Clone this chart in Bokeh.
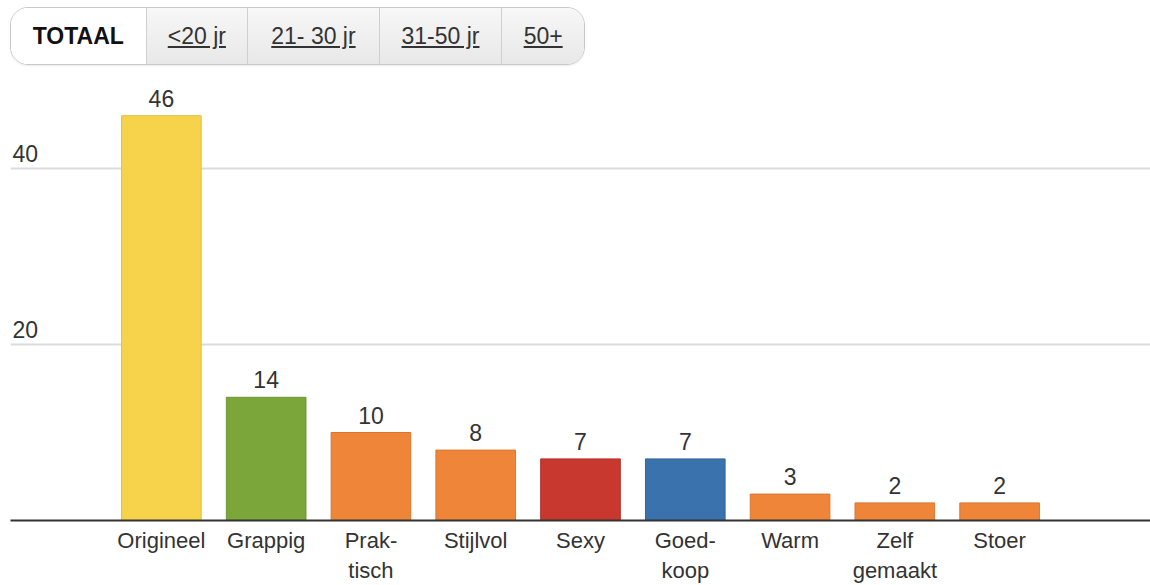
from bokeh.plotting import figure
from bokeh.models import FactorRange, ColumnDataSource, FixedTicker, Label, Div
from bokeh.layouts import column
from bokeh.embed import file_html
from bokeh.resources import INLINE

categories = ["Origineel", "Grappig", "Prak-\ntisch", "Stijlvol", "Sexy",
              "Goed-\nkoop", "Warm", "Zelf\ngemaakt", "Stoer"]
values = [46, 14, 10, 8, 7, 7, 3, 2, 2]
colors = ["#F6D34A", "#7BA73A", "#EE8538", "#EE8538", "#C8382F",
          "#3A72AD", "#EE8538", "#EE8538", "#EE8538"]
outlines = ["#E3C040", "#6E9632", "#DA7630", "#DA7630", "#B3312A",
            "#336599", "#DA7630", "#DA7630", "#DA7630"]
y_ticks = [20, 40]
tabs = ["TOTAAL", "&lt;20 jr", "21- 30 jr", "31-50 jr", "50+"]
tab_widths = [135, 102, 132, 123, 83]

FONT = "Liberation Sans"
FS = "23px"

# --- tab bar (HTML) ---
cells = []
for i, (t, w) in enumerate(zip(tabs, tab_widths)):
    if i == 0:
        style = ("background:#ffffff;font-weight:bold;color:#111;text-decoration:none;")
    else:
        style = ("background:linear-gradient(#f7f7f7,#e8e8e8);color:#333;"
                 "text-decoration:underline;border-left:1px solid #cfcfcf;")
    cells.append(
        f'<div style="display:flex;align-items:center;justify-content:center;'
        f'width:{w}px;height:100%;box-sizing:border-box;{style}">{t}</div>')
html = (f'<div style="display:flex;margin:7px 0 0 10px;height:58px;width:{sum(tab_widths)}px;'
        f'border:1px solid #c8c8c8;border-radius:18px;overflow:hidden;'
        f'font-family:\'{FONT}\';font-size:{FS};box-shadow:0 1px 2px rgba(0,0,0,0.08);">'
        + "".join(cells) + '</div>')
div = Div(text=html, width=620, height=74, margin=(0, 0, 0, 0))

# --- chart ---
x_range = FactorRange(factors=categories, range_padding=0.94,
                      range_padding_units="absolute")
p = figure(x_range=x_range, y_range=(0, 50), width=1150, height=511,
           output_backend="svg", toolbar_location=None,
           min_border_left=10, min_border_right=0, min_border_top=6,
           min_border_bottom=65)
p.outline_line_color = None
p.background_fill_color = "white"

src = ColumnDataSource(dict(cat=categories, val=values, color=colors,
                            outline=outlines, lbl=[str(v) for v in values]))
p.vbar(x="cat", top="val", width=0.76, source=src, fill_color="color",
       line_color="outline", line_width=1)
p.text(x="cat", y="val", text="lbl", source=src, text_align="center",
       text_baseline="bottom", y_offset=-9, text_font_size=FS,
       text_color="#333333", text_font={"value": FONT})

p.yaxis.visible = False
p.ygrid.ticker = FixedTicker(ticks=y_ticks)
p.ygrid.grid_line_color = "#dcdcdc"
p.ygrid.grid_line_width = 2
p.xgrid.grid_line_color = None

for t in y_ticks:
    p.add_layout(Label(x=2, y=t, x_units="screen", y_units="data", text=str(t),
                       text_font=FONT, text_font_size=FS, text_color="#333333",
                       text_baseline="bottom", y_offset=7))

ax = p.xaxis[0]
ax.axis_line_color = "#333333"
ax.axis_line_width = 2
ax.major_tick_line_color = None
ax.minor_tick_line_color = None
ax.major_tick_out = 0
ax.major_tick_in = 0
ax.major_label_standoff = 7
ax.major_label_text_font = FONT
ax.major_label_text_font_size = "22px"
ax.major_label_text_color = "#333333"

layout = column(div, p, spacing=0)
open("out.html", "w").write(file_html(layout, INLINE))
